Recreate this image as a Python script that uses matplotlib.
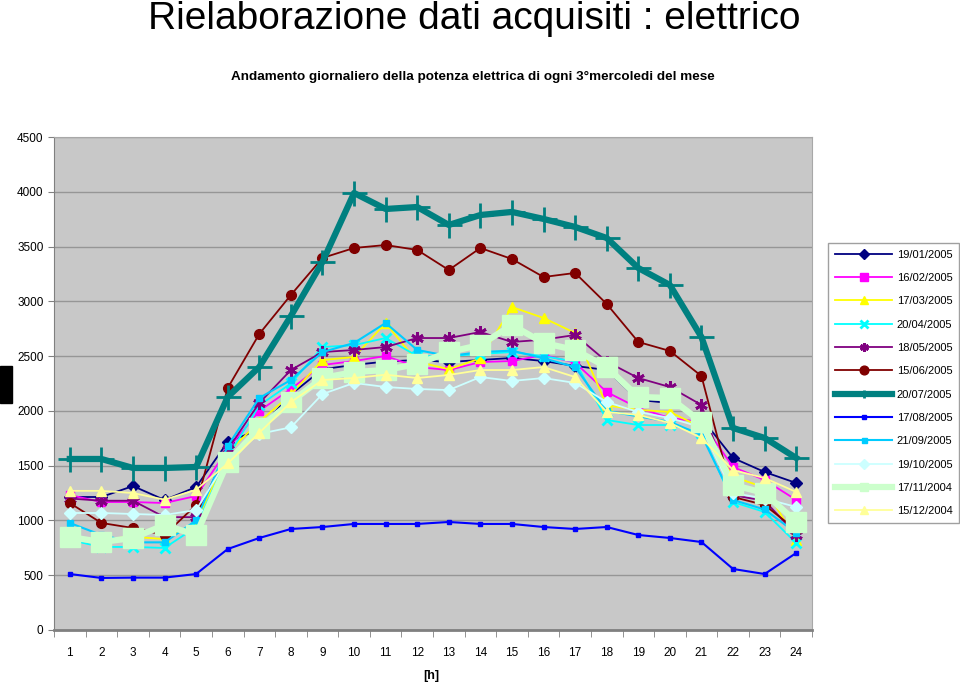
"""Daily electric power profile, every third Wednesday of the month"""
import matplotlib
matplotlib.use("Agg")
import matplotlib.pyplot as plt
from matplotlib.patches import Rectangle

plt.rcParams['font.family'] = ['Liberation Sans', 'DejaVu Sans']

hours = list(range(1, 25))

labels = ['19/01/2005', '16/02/2005', '17/03/2005', '20/04/2005',
          '18/05/2005', '15/06/2005', '20/07/2005', '17/08/2005',
          '21/09/2005', '19/10/2005', '17/11/2004', '15/12/2004']

gen_05 = [1214, 1214, 1314, 1187, 1305, 1716, 1830, 2150, 2380, 2420, 2450, 2465,
          2446, 2465, 2483, 2455, 2410, 2373, 2100, 2072, 1935, 1570, 1442, 1342]
feb_05 = [1232, 1168, 1168, 1159, 1223, 1650, 2000, 2200, 2419, 2455, 2501, 2400,
          2373, 2446, 2455, 2510, 2440, 2172, 2026, 1935, 1899, 1488, 1369, 1187]
mar_05 = [850, 830, 850, 830, 980, 1620, 1900, 2150, 2464, 2492, 2802, 2450,
          2380, 2480, 2948, 2848, 2711, 2050, 2010, 1990, 1850, 1400, 1300, 820]
apr_05 = [822, 758, 758, 749, 940, 1580, 2050, 2250, 2583, 2600, 2665, 2500,
          2500, 2520, 2537, 2500, 2450, 1917, 1871, 1871, 1800, 1168, 1077, 794]
mag_05 = [1200, 1180, 1180, 1030, 1030, 1650, 2072, 2373, 2537, 2556, 2583, 2665,
          2665, 2720, 2629, 2650, 2693, 2450, 2300, 2218, 2054, 1230, 1180, 870]
giu_05 = [1159, 977, 931, 867, 1141, 2209, 2702, 3058, 3396, 3487, 3514, 3469,
          3286, 3487, 3386, 3222, 3259, 2976, 2629, 2547, 2318, 1214, 1141, 913]
lug_05 = [1561, 1561, 1479, 1479, 1488, 2127, 2401, 2866, 3359, 3989, 3843, 3861,
          3697, 3788, 3816, 3752, 3679, 3578, 3304, 3149, 2674, 1844, 1753, 1570]
ago_05 = [511, 475, 478, 478, 511, 739, 840, 922, 940, 968, 968, 968,
          986, 968, 968, 940, 922, 940, 867, 840, 803, 557, 511, 703]
set_05 = [977, 867, 800, 800, 1000, 1680, 2118, 2282, 2537, 2620, 2802, 2556,
          2500, 2537, 2550, 2480, 2400, 2000, 1950, 1900, 1780, 1187, 1100, 885]
ott_05 = [1068, 1068, 1059, 1050, 1095, 1560, 1790, 1850, 2154, 2255, 2218, 2200,
          2190, 2309, 2273, 2300, 2255, 2081, 1990, 1935, 1850, 1250, 1200, 1123]
nov_04 = [849, 803, 840, 958, 867, 1533, 1844, 2081, 2300, 2355, 2373, 2428,
          2537, 2602, 2784, 2620, 2556, 2400, 2127, 2118, 1899, 1324, 1250, 986]
dic_04 = [1270, 1270, 1250, 1190, 1280, 1520, 1800, 2080, 2282, 2300, 2330, 2300,
          2328, 2373, 2373, 2400, 2309, 1990, 1963, 1890, 1753, 1460, 1387, 1260]

series = [gen_05, feb_05, mar_05, apr_05, mag_05, giu_05,
          lug_05, ago_05, set_05, ott_05, nov_04, dic_04]

# colour, marker, marker size, line width (Excel default palette)
styles = [('#000080', 'D', 6, 1.3),
          ('#FF00FF', 's', 6, 1.3),
          ('#FFFF00', '^', 7, 1.3),
          ('#00FFFF', 'x', 7, 1.3),
          ('#800080', (6, 2, 0), 9, 1.3),
          ('#800000', 'o', 7, 1.3),
          ('#008080', '+', 18, 4.5),
          ('#0000FF', 's', 3.5, 1.5),
          ('#00CCFF', 's', 4, 1.5),
          ('#CCFFFF', 'D', 6, 1.3),
          ('#CCFFCC', 's', 14, 4.5),
          ('#FFFF99', '^', 7, 1.3)]

fig = plt.figure(figsize=(9.6, 6.85), dpi=100)
ax = fig.add_axes([0.05625, 0.0803, 0.7896, 0.7197])
ax.set_facecolor('#C8C8C8')

for data, label, (col, mk, ms, lw) in zip(series, labels, styles):
    ax.plot(hours, data, color=col, lw=lw, marker=mk, markersize=ms,
            markerfacecolor=col, markeredgecolor=col,
            markeredgewidth=2 if mk in ('x', '+', (6, 2, 0)) else 1,
            label=label)

ax.set_xlim(0.5, 24.5)
ax.set_ylim(0, 4500)
ax.set_yticks(range(0, 4501, 500))
ax.set_xticks(hours)
ax.set_xticks([h + 0.5 for h in range(0, 25)], minor=True)
ax.tick_params(axis='x', which='major', length=0, pad=12, labelsize=8.5)
ax.tick_params(axis='x', which='minor', length=5, color='#808080')
ax.tick_params(axis='y', length=4, color='#808080', labelsize=8.5)
ax.yaxis.grid(True, color='#969696', lw=1)
ax.set_axisbelow(True)

for side in ['top', 'right']:
    ax.spines[side].set_color('#A8A8A8')
ax.spines['left'].set_color('#808080')
ax.spines['bottom'].set_color('#808080')
ax.spines['bottom'].set_linewidth(2)

# axis label placed by hand, close to the bottom edge as in the original
fig.text(0.449, 0.013, '[h]', ha='center', va='center', fontsize=9, fontweight='bold')

fig.text(0.494, 0.972, 'Rielaborazione dati acquisiti : elettrico',
         ha='center', va='center', fontsize=28)
fig.text(0.493, 0.888, 'Andamento giornaliero della potenza elettrica di ogni 3°mercoledi del mese',
         ha='center', va='center', fontsize=9.7, fontweight='bold')

leg = fig.legend(loc='upper left', bbox_to_anchor=(0.8625, 0.6453),
                 fontsize=8, handlelength=5.2, labelspacing=1.2,
                 handletextpad=0.4, borderpad=0.6,
                 fancybox=False, framealpha=1, edgecolor='#A0A0A0',
                 borderaxespad=0)
leg.get_frame().set_linewidth(1)
for h, (col, mk, ms, lw) in zip(leg.legend_handles, styles):
    h.set_markersize(min(ms, 7) * 0.9)

# odd black block on the left edge of the original
fig.patches.append(Rectangle((0, 0.4117), 0.0125, 0.054, transform=fig.transFigure,
                             color='black', figure=fig))

plt.savefig('out.png', dpi=100)
